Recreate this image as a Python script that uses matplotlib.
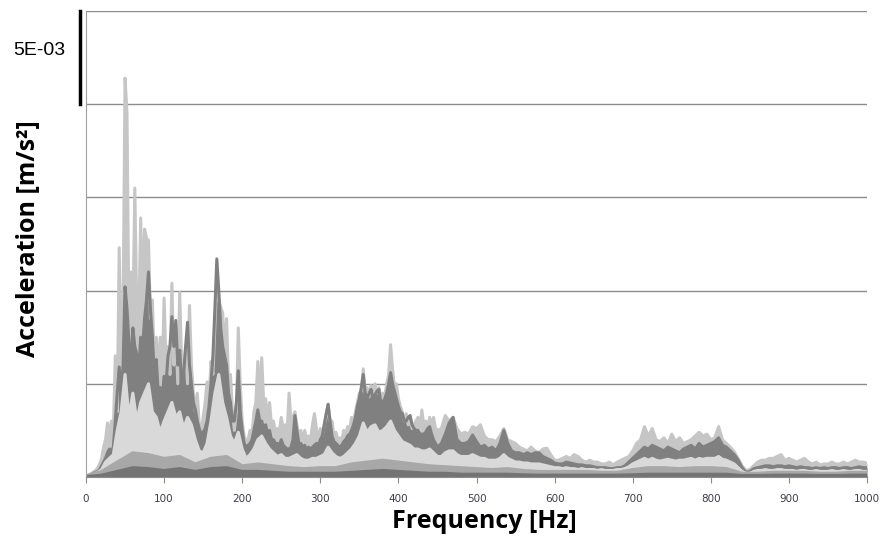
import numpy as np
import matplotlib
matplotlib.use("Agg")
import matplotlib.pyplot as plt
import matplotlib.transforms as mtransforms

# acceleration spectra, values in 1e-3 m/s^2
# finer frequency grid below 450 Hz where the spectra are spiky
freq_fine = np.concatenate([np.arange(0, 450, 2.5), np.arange(450, 1001, 5)])
freq = np.arange(0, 1001, 5)
freq_coarse = np.arange(0, 1001, 20)

acc_light = [
    # 0 - 447.5 Hz, 2.5 Hz steps
    0.1, 0.1, 0.15, 0.2, 0.3, 0.35, 0.5, 0.7, 1.0, 1.6, 2.0, 2.9, 2.2, 3.0, 2.4, 6.5, 3.5, 12.3, 6.0, 9.0,
    21.4, 19.5, 8.0, 11.0, 8.5, 15.5, 9.0, 8.0, 13.9, 9.5, 13.3, 12.8, 12.7, 8.5, 9.5, 6.0, 7.5, 5.2, 7.5, 5.5,
    9.6, 6.0, 7.0, 5.5, 10.4, 6.0, 8.0, 5.0, 9.9, 6.0, 5.5, 7.0, 5.0, 9.2, 6.0, 4.5, 3.5, 4.5, 2.8, 2.5,
    3.2, 4.0, 5.1, 4.0, 6.2, 5.5, 8.0, 10.6, 9.5, 9.1, 8.8, 6.5, 8.5, 5.0, 5.5, 3.5, 2.5, 3.5, 8.0, 5.0,
    3.0, 2.2, 1.9, 2.0, 2.5, 2.2, 3.5, 4.0, 6.2, 4.2, 6.4, 4.0, 4.2, 3.0, 4.0, 2.8, 3.0, 2.4, 2.6, 2.4,
    3.2, 2.6, 2.8, 2.3, 4.5, 3.0, 3.2, 3.5, 2.8, 2.2, 2.5, 2.0, 2.5, 2.0, 2.2, 2.0, 2.8, 3.4, 2.6, 2.0,
    2.6, 2.2, 2.8, 3.2, 3.9, 3.0, 3.0, 2.2, 2.4, 2.0, 2.1, 2.0, 2.5, 2.3, 2.7, 2.5, 3.2, 3.0, 3.5, 4.0,
    4.5, 4.6, 5.8, 4.5, 4.8, 4.3, 4.9, 4.6, 5.0, 4.5, 4.8, 4.2, 4.5, 4.3, 5.0, 5.5, 7.1, 5.8, 4.8, 5.0,
    4.2, 3.8, 3.5, 3.0, 3.4, 2.8, 3.0, 2.6, 2.8, 3.0, 3.2, 2.6, 3.6, 2.8, 3.0, 2.6, 3.2, 2.8, 3.2, 2.6,
    # 450 - 1000 Hz, 5 Hz steps
    2.5, 2.6, 3.3, 3.0, 3.2, 2.6, 2.3, 2.4, 2.3, 2.7, 2.6,
    2.8, 2.2, 2.0, 2.0, 1.9, 2.2, 2.6, 2.0, 1.9, 1.8, 1.6, 1.5, 1.4, 1.6, 1.4, 1.3, 1.5, 1.55, 1.2, 0.9,
    0.9, 1.0, 1.1, 1.0, 1.2, 1.1, 0.9, 0.8, 0.9, 0.8, 0.8, 0.7, 0.7, 0.8, 0.65, 0.8, 0.9, 1.0, 1.1, 1.4,
    1.8, 2.0, 2.7, 2.2, 2.6, 2.0, 1.9, 2.1, 1.8, 2.3, 1.9, 2.1, 1.8, 1.9, 2.0, 2.2, 2.4, 2.2, 2.3, 2.0,
    2.1, 2.7, 2.0, 1.8, 1.6, 1.35, 1.0, 0.6, 0.35, 0.4, 0.6, 0.8, 0.9, 0.9, 1.0, 1.0, 1.1, 1.2, 0.9, 1.0,
    0.9, 0.8, 0.9, 1.0, 0.8, 0.7, 0.8, 0.65, 0.7, 0.7, 0.8, 0.7, 0.7, 0.8, 0.7, 0.8, 0.9, 0.8, 0.8, 0.75,
]

acc_dark = [
    # 0 - 447.5 Hz, 2.5 Hz steps
    0.05, 0.05, 0.1, 0.15, 0.2, 0.25, 0.3, 0.4, 0.6, 0.8, 1.0, 1.3, 1.5, 1.4, 1.6, 3.0, 4.5, 5.9, 4.5, 6.0,
    10.2, 9.0, 7.2, 6.0, 8.0, 7.0, 6.6, 5.5, 7.5, 7.0, 8.5, 9.5, 11.0, 9.0, 7.5, 5.5, 6.3, 4.5, 4.8, 4.2,
    5.4, 5.0, 6.5, 7.0, 8.6, 7.0, 8.4, 6.0, 6.8, 5.0, 5.5, 7.0, 8.3, 6.0, 5.0, 4.0, 3.6, 3.0, 2.6, 2.3,
    2.4, 2.6, 3.0, 3.8, 5.0, 6.5, 9.0, 11.7, 10.0, 8.0, 7.0, 6.5, 6.0, 4.5, 4.0, 3.0, 3.0, 4.0, 5.7, 3.5,
    2.5, 1.8, 1.6, 1.7, 1.8, 2.0, 2.5, 3.0, 3.6, 3.0, 3.0, 2.6, 2.8, 2.3, 2.5, 2.0, 2.0, 1.8, 1.8, 1.7,
    2.0, 1.7, 1.6, 1.5, 1.5, 1.6, 2.0, 3.3, 2.5, 1.8, 1.8, 1.6, 1.7, 1.5, 1.6, 1.5, 1.6, 1.7, 1.8, 1.7,
    2.0, 2.2, 2.8, 3.4, 3.9, 3.0, 2.2, 1.9, 1.8, 1.7, 1.6, 1.7, 1.9, 2.0, 2.2, 2.3, 2.5, 2.8, 3.2, 3.8,
    4.2, 4.8, 5.5, 4.5, 4.2, 4.5, 4.7, 4.2, 4.4, 4.6, 4.7, 4.0, 4.0, 4.2, 4.5, 5.0, 5.6, 5.0, 4.6, 4.2,
    3.8, 3.5, 3.4, 3.0, 3.0, 3.2, 3.3, 2.8, 2.6, 2.5, 2.5, 2.3, 2.3, 2.3, 2.4, 2.6, 2.7, 2.3, 2.0, 1.8,
    # 450 - 1000 Hz, 5 Hz steps
    1.6, 1.8, 2.3, 2.9, 3.2, 2.0, 1.8, 1.8, 1.9, 2.25, 1.9,
    1.6, 1.7, 1.5, 1.6, 1.4, 1.8, 2.5, 1.8, 1.4, 1.3, 1.3, 1.2, 1.3, 1.2, 1.3, 1.3, 1.1, 1.0, 0.9, 0.75,
    0.7, 0.7, 0.8, 0.75, 0.7, 0.65, 0.65, 0.6, 0.6, 0.55, 0.5, 0.5, 0.5, 0.45, 0.45, 0.5, 0.5, 0.6, 0.8, 1.0,
    1.2, 1.4, 1.6, 1.5, 1.7, 1.6, 1.5, 1.4, 1.6, 1.5, 1.4, 1.3, 1.5, 1.6, 1.7, 1.5, 1.8, 1.6, 1.7, 1.8,
    1.9, 2.1, 1.7, 1.6, 1.4, 1.2, 0.9, 0.5, 0.25, 0.3, 0.45, 0.5, 0.55, 0.6, 0.6, 0.55, 0.6, 0.6, 0.55, 0.6,
    0.55, 0.5, 0.55, 0.5, 0.5, 0.45, 0.5, 0.45, 0.5, 0.45, 0.5, 0.5, 0.45, 0.5, 0.5, 0.45, 0.5, 0.55, 0.5, 0.5,
]

acc_pale = [
    0.05, 0.1, 0.15, 0.25, 0.4, 0.8, 1.0, 1.2, 2.5, 3.5, 5.5, 3.2, 4.5, 3.0, 4.0, 4.5, 5.0, 3.5, 3.2, 2.4, 3.0,
    3.5, 4.0, 3.2, 3.5, 2.6, 3.2, 2.8, 2.0, 1.4, 1.3, 1.8, 3.0, 4.5, 5.5, 4.0, 3.2, 2.2, 1.8, 2.4, 1.5,
    1.0, 1.2, 1.5, 2.0, 2.2, 1.8, 1.5, 1.3, 1.1, 1.2, 1.0, 1.0, 1.1, 1.2, 1.0, 0.9, 0.9, 1.0, 1.0, 1.1,
    1.2, 1.6, 1.3, 1.1, 1.0, 1.1, 1.3, 1.5, 1.8, 2.2, 2.9, 2.4, 2.7, 2.8, 2.4, 2.5, 2.7, 3.0, 2.5, 2.2,
    1.9, 1.8, 1.7, 1.5, 1.5, 1.4, 1.4, 1.5, 1.3, 1.1, 1.1, 1.3, 1.4, 1.4, 1.2, 1.1, 1.1, 1.1, 1.2, 1.1,
    1.0, 1.0, 0.9, 0.9, 0.9, 1.0, 1.2, 1.0, 0.9, 0.8, 0.8, 0.75, 0.75, 0.7, 0.7, 0.7, 0.65, 0.6, 0.55, 0.5,
    0.5, 0.45, 0.5, 0.45, 0.45, 0.4, 0.45, 0.4, 0.4, 0.4, 0.35, 0.4, 0.35, 0.35, 0.35, 0.4, 0.4, 0.45, 0.55, 0.7,
    0.8, 0.9, 1.0, 0.9, 1.0, 0.9, 0.85, 0.9, 0.95, 0.9, 0.85, 0.9, 0.9, 0.95, 1.0, 0.9, 1.0, 0.95, 1.0, 1.0,
    1.0, 1.1, 0.95, 0.9, 0.8, 0.7, 0.5, 0.3, 0.2, 0.2, 0.3, 0.35, 0.35, 0.4, 0.35, 0.35, 0.4, 0.4, 0.35, 0.35,
    0.35, 0.3, 0.35, 0.35, 0.3, 0.3, 0.35, 0.3, 0.3, 0.3, 0.35, 0.3, 0.3, 0.35, 0.3, 0.3, 0.35, 0.35, 0.3, 0.3,
]

acc_mid = [
    0.05, 0.3, 0.8, 1.3, 1.2, 1.0, 1.1, 0.7, 1.0, 1.1, 0.6, 0.7, 0.6, 0.5, 0.45, 0.5, 0.5, 0.7, 0.8, 0.9,
    0.8, 0.7, 0.6, 0.55, 0.5, 0.45, 0.4, 0.45, 0.35, 0.3, 0.3, 0.3, 0.3, 0.25, 0.25, 0.4, 0.5, 0.5, 0.45, 0.5,
    0.5, 0.45, 0.2, 0.2, 0.25, 0.25, 0.25, 0.2, 0.2, 0.25, 0.25,
]

acc_low = [
    0.02, 0.1, 0.3, 0.5, 0.45, 0.35, 0.45, 0.3, 0.45, 0.5, 0.3, 0.3, 0.25, 0.2, 0.2, 0.2, 0.2, 0.25, 0.3, 0.35,
    0.3, 0.25, 0.2, 0.2, 0.15, 0.15, 0.15, 0.15, 0.12, 0.1, 0.1, 0.1, 0.1, 0.1, 0.1, 0.12, 0.15, 0.15, 0.15, 0.15,
    0.15, 0.15, 0.08, 0.08, 0.1, 0.1, 0.1, 0.08, 0.08, 0.1, 0.1,
]

xticks = np.arange(0, 1001, 100)

fig = plt.figure(figsize=(8.82, 5.46), dpi=100)
ax = fig.add_axes([86/882, 1-477/546, 781/882, 466/546])

# dense spectra: thick line plus the area under it
series = [
    (freq_fine, acc_light, "#c6c6c6"),
    (freq_fine, acc_dark, "#808080"),
    (freq, acc_pale, "#d9d9d9"),
    (freq_coarse, acc_mid, "#a8a8a8"),
    (freq_coarse, acc_low, "#747474"),
]
for f, a, c in series:
    ax.fill_between(f, 0, a, color=c, lw=0)
    ax.plot(f, a, color=c, lw=2.2)

ax.set_xlim(0, 1000)
ax.set_ylim(0, 25)
ax.set_xticks(xticks)
ax.set_xticklabels([str(t) for t in xticks], fontsize=7.5, color="#3c3c4c", family="DejaVu Sans")
ax.set_yticks([0, 5, 10, 15, 20, 25])
ax.set_yticklabels([])
ax.tick_params(axis="y", length=0)
ax.tick_params(axis="x", direction="out", length=4, color="#8c8c8c", pad=8)
ax.grid(axis="y", color="#8c8c8c", lw=1)
ax.set_axisbelow(True)

for s in ["top", "right"]:
    ax.spines[s].set_visible(False)
ax.spines["left"].set_color("#a0a0a0")
ax.spines["bottom"].set_color("#8c8c8c")

fig.text(484/882, 1-522/546, "Frequency [Hz]", fontsize=18, fontweight="bold",
         family="Open Sans", ha="center", va="center")
fig.text(28/882, 1-239/546, "Acceleration [m/s²]", fontsize=18, fontweight="bold",
         family="Open Sans", ha="center", va="center", rotation=90)

# scale bar
trans = mtransforms.blended_transform_factory(ax.transAxes, ax.transData)
ax.plot([-0.0077, -0.0077], [20, 25], color="black", lw=2.5, transform=trans, clip_on=False)
ax.text(-0.06, 22.9, "5E-03", transform=trans, ha="center", va="center", fontsize=14, family="Liberation Sans")

fig.savefig("out.png", dpi=100)
